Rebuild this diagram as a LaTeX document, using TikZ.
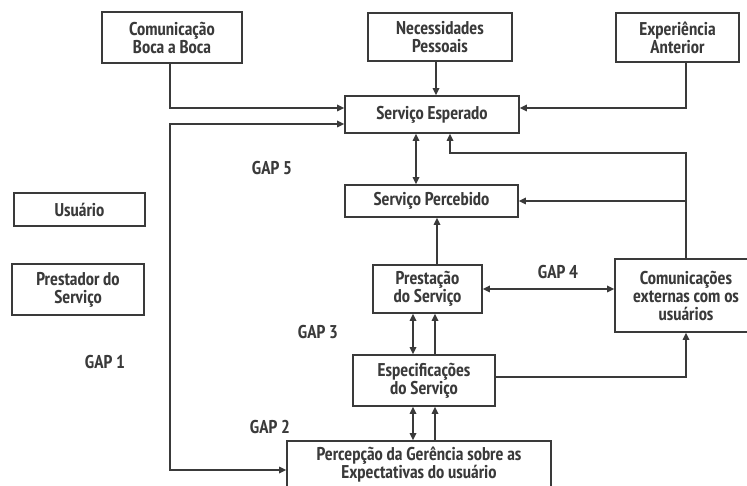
\documentclass[tikz,border=0pt]{standalone}
\usepackage{fontspec}
\setmainfont{PT Sans Narrow Bold}
\usetikzlibrary{arrows.meta}
\usetikzlibrary{calc}

\definecolor{ink}{HTML}{3A3A3A}

\tikzset{
	gapbox/.style={draw=ink, line width=1.6pt, text=ink, align=center, inner sep=0pt,
		font=\fontsize{18.5}{18}\selectfont},
	gaplabel/.style={text=ink, font=\fontsize{18.5}{18}\selectfont},
	flow/.style={draw=ink, line width=1.6pt, -{Triangle[length=7pt,width=6.5pt]}},
	twoway/.style={draw=ink, line width=1.6pt, {Triangle[length=7pt,width=6.5pt]}-{Triangle[length=7pt,width=6.5pt]}}
}

\begin{document}
\begin{tikzpicture}[x=1pt, y=-1pt]
			\useasboundingbox (0,0) rectangle (747,486);
			\clip (0,0) rectangle (747,486);
			% boxes
			\node [gapbox, minimum width=140pt, minimum height=51pt] (boca) at (172,37.5) {Comunicação\\Boca a Boca};
			\node [gapbox, minimum width=144pt, minimum height=48pt] (necess) at (440,37) {Necessidades\\Pessoais};
			\node [gapbox, minimum width=123pt, minimum height=49pt] (exper) at (677.5,37.5) {Experiência\\Anterior};
			\node [gapbox, minimum width=174pt, minimum height=37pt] (esperado) at (432,114.5) {Serviço Esperado};
			\node [gapbox, minimum width=173pt, minimum height=32pt] (percebido) at (431.5,201) {Serviço Percebido};
			\node [gapbox, minimum width=131pt, minimum height=33pt] (usuario) at (79.5,209.5) {Usuário};
			\node [gapbox, minimum width=132pt, minimum height=51pt] (prestador) at (78,289.5) {Prestador do\\Serviço};
			\node [gapbox, minimum width=109pt, minimum height=48pt] (prestacao) at (427.5,289) {Prestação\\do Serviço};
			\node [gapbox, minimum width=142pt, minimum height=51pt] (especif) at (424,380.5) {Especificações\\do Serviço};
			\node [gapbox, minimum width=264pt, minimum height=47pt] (percepcao) at (419,464.5) {Percepção da Gerência sobre as\\Expectativas do usuário};
			\node [gapbox, minimum width=142pt, minimum height=73pt] (comunic) at (686,295.5) {Comunicações\\externas com os\\usuários};
			% gaps
			\node [gaplabel] (gap5) at (272,168) {GAP 5};
			\node [gaplabel] (gap4) at (558,272) {GAP 4};
			\node [gaplabel] (gap3) at (318,332) {GAP 3};
			\node [gaplabel] (gap1) at (105,362) {GAP 1};
			\node [gaplabel] (gap2) at (270,427) {GAP 2};
			% connectors
			\coordinate (leftcol) at (170,300);
			\coordinate (back) at (450,153);
			\draw [flow] ([xshift=-2pt]boca.south) |- ([yshift=6.5pt]esperado.west);
			\draw [twoway] ([yshift=-9.5pt]esperado.west) -| (leftcol) |- ([yshift=-5.5pt]percepcao.west);
			\draw [flow] ([xshift=-4pt]necess.south) -- ([xshift=-4pt]necess.south |- esperado.north);
			\draw [flow] ([xshift=8.5pt]exper.south) |- ([yshift=6.5pt]esperado.east);
			\draw [twoway] ([xshift=-16pt]esperado.south) -- ([xshift=-16pt]esperado.south |- percebido.north);
			\draw [flow] (comunic.north) |- (back) -- (back |- esperado.south);
			\draw [flow] (comunic.north |- percebido.east) -- (percebido.east);
			\draw [flow] ([xshift=9.5pt]prestacao.north) -- ([xshift=9.5pt]prestacao.north |- percebido.south);
			\draw [twoway] (prestacao.east) -- (prestacao.east -| comunic.west);
			\draw [twoway] ([xshift=-11pt]especif.north) -- ([xshift=-11pt]especif.north |- prestacao.south);
			\draw [flow] ([xshift=11pt]especif.north) -- ([xshift=11pt]especif.north |- prestacao.south);
			\draw [flow] ([yshift=3.5pt]especif.east) -| (comunic.south);
			\draw [twoway] ([xshift=-6pt]percepcao.north) -- ([xshift=-6pt]percepcao.north |- especif.south);
			\draw [flow] ([xshift=16pt]percepcao.north) -- ([xshift=16pt]percepcao.north |- especif.south);
	\end{tikzpicture}
\end{document}
